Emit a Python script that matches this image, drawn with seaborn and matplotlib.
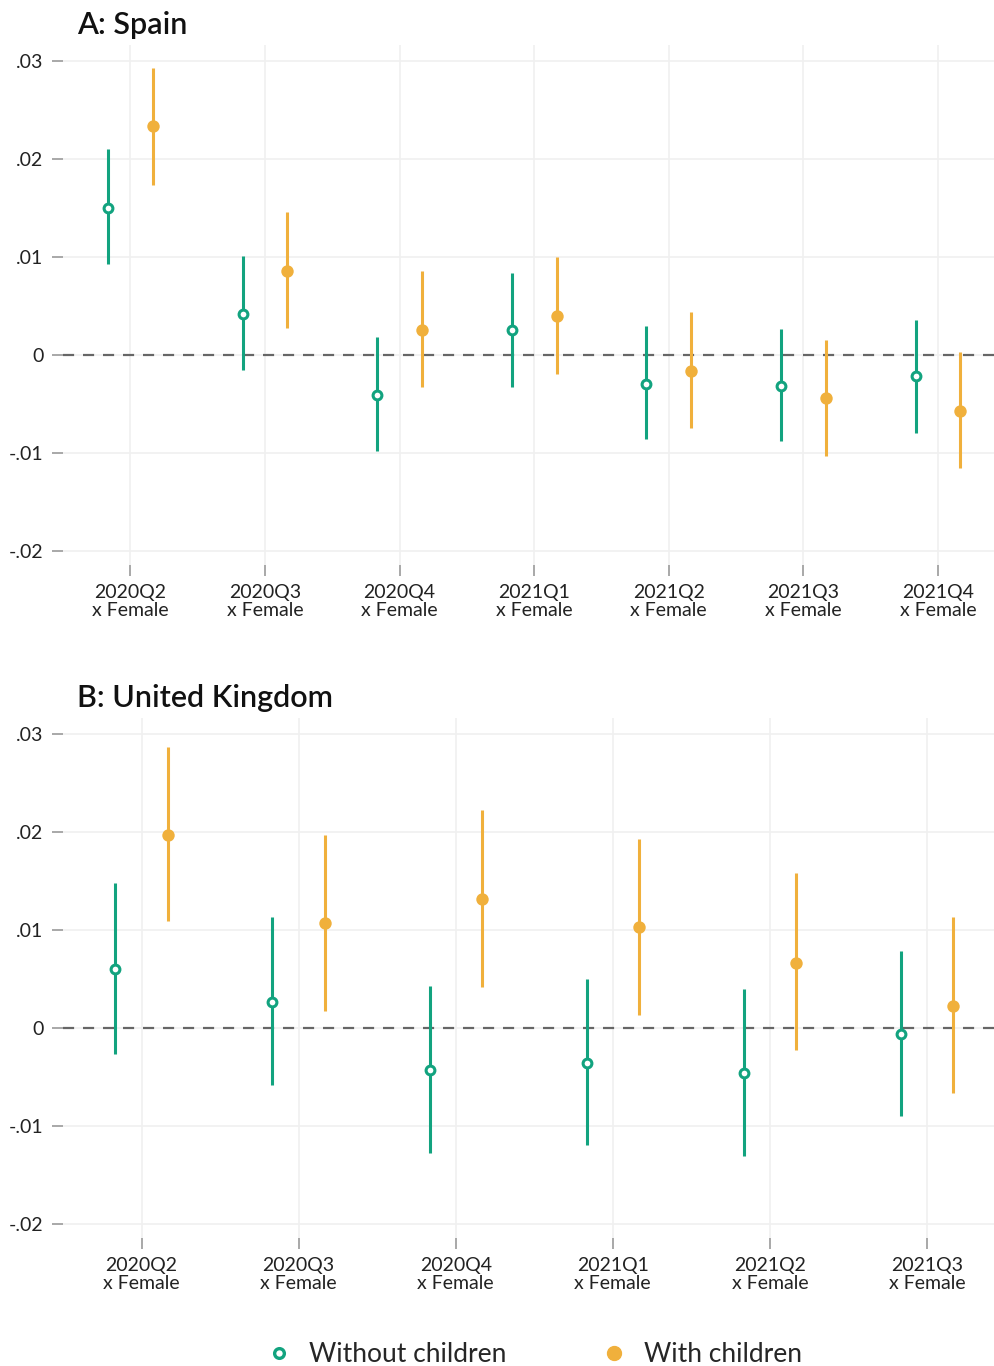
import numpy as np
import pandas as pd
import seaborn as sns
import matplotlib.pyplot as plt
from matplotlib.lines import Line2D

sns.set_theme(style="white")
plt.rcParams['font.family'] = ['Lato', 'DejaVu Sans']

GREEN = '#12a37f'
ORANGE = '#f0b03c'

# Panel A: Spain
es_quarters = ['2020Q2', '2020Q3', '2020Q4', '2021Q1', '2021Q2', '2021Q3', '2021Q4']
es_nokids = [0.0150, 0.0042, -0.0041, 0.0026, -0.0029, -0.0032, -0.0021]
es_nokids_lo = [0.0093, -0.0015, -0.0098, -0.0033, -0.0086, -0.0088, -0.0079]
es_nokids_hi = [0.0210, 0.0101, 0.0018, 0.0084, 0.0030, 0.0027, 0.0036]
es_kids = [0.0233, 0.0086, 0.0026, 0.0040, -0.0016, -0.0044, -0.0057]
es_kids_lo = [0.0173, 0.0028, -0.0033, -0.0019, -0.0074, -0.0103, -0.0115]
es_kids_hi = [0.0293, 0.0146, 0.0086, 0.0100, 0.0044, 0.0015, 0.0003]

# Panel B: United Kingdom
uk_quarters = ['2020Q2', '2020Q3', '2020Q4', '2021Q1', '2021Q2', '2021Q3']
uk_nokids = [0.0060, 0.0027, -0.0043, -0.0036, -0.0046, -0.0006]
uk_nokids_lo = [-0.0026, -0.0058, -0.0127, -0.0119, -0.0130, -0.0090]
uk_nokids_hi = [0.0148, 0.0113, 0.0043, 0.0050, 0.0040, 0.0079]
uk_kids = [0.0197, 0.0107, 0.0132, 0.0103, 0.0066, 0.0022]
uk_kids_lo = [0.0109, 0.0017, 0.0042, 0.0013, -0.0022, -0.0066]
uk_kids_hi = [0.0286, 0.0197, 0.0222, 0.0193, 0.0158, 0.0113]

yticks = [0.03, 0.02, 0.01, 0.0, -0.01, -0.02]
ytick_labels = ['.03', '.02', '.01', '0', '-.01', '-.02']


def make_df(quarters, nk, nk_lo, nk_hi, k, k_lo, k_hi):
    idx = np.arange(len(quarters))
    a = pd.DataFrame({'pos': idx - 1/6, 'coef': nk, 'lo': nk_lo, 'hi': nk_hi,
                      'group': 'Without children'})
    b = pd.DataFrame({'pos': idx + 1/6, 'coef': k, 'lo': k_lo, 'hi': k_hi,
                      'group': 'With children'})
    return pd.concat([a, b], ignore_index=True)


def draw_panel(ax, quarters, df, right):
    n = len(quarters)
    for grp, col in [('Without children', GREEN), ('With children', ORANGE)]:
        d = df[df.group == grp]
        ax.vlines(d.pos, d.lo, d.hi, color=col, lw=2.2, zorder=3)
    ax.axhline(0, color='#666666', lw=1.6, ls=(0, (5, 4)), zorder=2)
    d = df[df.group == 'Without children']
    sns.scatterplot(data=d, x='pos', y='coef', ax=ax, marker='o', s=40,
                    facecolor='white', edgecolor=GREEN, linewidth=2.2, zorder=4, legend=False)
    d = df[df.group == 'With children']
    sns.scatterplot(data=d, x='pos', y='coef', ax=ax, marker='o', s=80,
                    color=ORANGE, edgecolor=ORANGE, linewidth=0, zorder=4, legend=False)
    ax.set_xlim(-0.5, n - 1 + right)
    ax.set_ylim(-0.0214, 0.0316)
    ax.set_xticks(np.arange(n))
    ax.set_xticklabels([q + '\nx Female' for q in quarters], fontsize=14, color='#222222',
                       linespacing=1.05)
    ax.set_yticks(yticks)
    ax.set_yticklabels(ytick_labels, fontsize=14, color='#222222')
    ax.grid(True, color='#f0f0f0', lw=1.2)
    ax.set_axisbelow(True)
    for s in ax.spines.values():
        s.set_visible(False)
    ax.tick_params(axis='both', length=8, width=1.2, color='#999999', pad=6,
                   bottom=True, left=True)
    ax.set_xlabel('')
    ax.set_ylabel('')


fig = plt.figure(figsize=(9.94, 13.66), dpi=100)
ax1 = fig.add_axes([0.0634, 0.5864, 0.9366, 0.3806])
ax2 = fig.add_axes([0.0634, 0.0937, 0.9366, 0.3807])

draw_panel(ax1, es_quarters, make_df(es_quarters, es_nokids, es_nokids_lo, es_nokids_hi,
                                     es_kids, es_kids_lo, es_kids_hi), 0.416)
draw_panel(ax2, uk_quarters, make_df(uk_quarters, uk_nokids, uk_nokids_lo, uk_nokids_hi,
                                     uk_kids, uk_kids_lo, uk_kids_hi), 0.427)

fig.text(77 / 994, 1 - 25 / 1366, 'A: Spain', fontsize=22, fontweight='semibold',
         va='center', ha='left', color='#111111')
fig.text(77 / 994, 1 - 698 / 1366, 'B: United Kingdom', fontsize=22, fontweight='semibold',
         va='center', ha='left', color='#111111')

handles = [
    Line2D([], [], ls='none', marker='o', ms=7, mfc='white', mec=GREEN, mew=2.4),
    Line2D([], [], ls='none', marker='o', ms=10, mfc=ORANGE, mec=ORANGE),
]
fig.legend(handles, ['Without children', 'With children'], loc='center',
           bbox_to_anchor=(0.537, 1 - 1355 / 1366), ncol=2, frameon=False, fontsize=19,
           columnspacing=3.6, handletextpad=0.63, handlelength=1.0)

fig.savefig('out.png', dpi=100, facecolor='white')
